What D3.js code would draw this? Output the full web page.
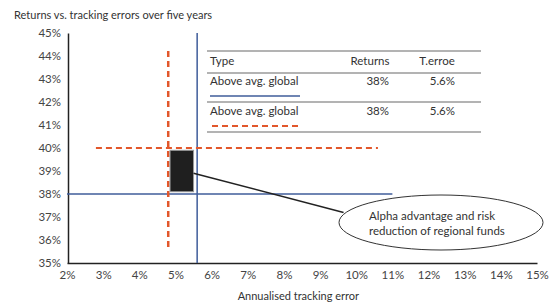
<!DOCTYPE html>
<html>
<head>
<meta charset="utf-8">
<script src="https://cdn.jsdelivr.net/npm/d3@7"></script>
<style>
  body { margin: 0; background: #fff; }
  text { font-family: Lato, "Open Sans", sans-serif; }
</style>
</head>
<body>
<svg id="display"></svg>
<script>
"use strict";

var width = 557,
    height = 305;

// axis ticks (percent)
var xTicks = [2, 3, 4, 5, 6, 7, 8, 9, 10, 11, 12, 13, 14, 15];
var yTicks = [35, 36, 37, 38, 39, 40, 41, 42, 43, 44, 45];

// global average: returns 38%, tracking error 5.6%
var globalReturn = 38,
    globalTE = 5.6,
    globalReturnSpan = [2, 11],
    globalTESpan = [35, 45];

// regional: returns 40%, tracking error 4.8%
var regionalReturn = 40,
    regionalTE = 4.8,
    regionalReturnSpan = [2.8, 10.6],
    regionalTESpan = [35.7, 44.3];

// advantage box [te0, te1, ret0, ret1]
var box = [4.85, 5.5, 38.1, 39.9];
var pointer = [[5.5, 38.9], [9.65, 37.2]];

var tableHead = ['Type', 'Returns', 'T.erroe'];
var tableRows = [
  ['Above avg. global', '38%', '5.6%'],
  ['Above avg. global', '38%', '5.6%']
];

var blue = '#3f5c9a',
    orange = '#e2572b';

var svg = d3.select('#display').attr('width', width).attr('height', height);

var x = d3.scaleLinear().domain([2, 15]).range([67, 537]);
var y = d3.scaleLinear().domain([35, 45]).range([263, 33]);

// title
svg.append('text')
  .attr('x', 14).attr('y', 19)
  .attr('font-size', 11).attr('fill', '#333')
  .text('Returns vs. tracking errors over five years');

// y axis
var yAxis = svg.append('g')
  .attr('transform', 'translate(' + (x(2) + 1) + ',0)')
  .call(d3.axisLeft(y).tickValues(yTicks).tickSize(0).tickPadding(7)
    .tickFormat(function(d){ return d + '%'; }));
yAxis.select('.domain').attr('stroke', '#222').attr('stroke-width', 1.5);
yAxis.selectAll('text').attr('font-size', 11.5).attr('fill', '#444')
  .style('font-family', 'Lato, sans-serif');

// x axis
var xAxis = svg.append('g')
  .attr('transform', 'translate(0,' + y(35) + ')')
  .call(d3.axisBottom(x).tickValues(xTicks).tickSize(0).tickPadding(8)
    .tickFormat(function(d){ return d + '%'; }));
xAxis.select('.domain').attr('stroke', '#222').attr('stroke-width', 1.5);
xAxis.selectAll('text').attr('font-size', 11.5).attr('fill', '#444')
  .style('font-family', 'Lato, sans-serif');

svg.append('text')
  .attr('x', x(8.4)).attr('y', 300)
  .attr('text-anchor', 'middle')
  .attr('font-size', 11).attr('fill', '#333')
  .text('Annualised tracking error');

// global average lines (blue)
svg.append('line')
  .attr('x1', x(globalReturnSpan[0])).attr('x2', x(globalReturnSpan[1]))
  .attr('y1', y(globalReturn)).attr('y2', y(globalReturn))
  .attr('stroke', blue).attr('stroke-width', 1.5);
svg.append('line')
  .attr('x1', x(globalTE)).attr('x2', x(globalTE))
  .attr('y1', y(globalTESpan[0])).attr('y2', y(globalTESpan[1]))
  .attr('stroke', blue).attr('stroke-width', 1.5);

// regional lines (orange dashed)
svg.append('line')
  .attr('x1', x(regionalReturnSpan[0])).attr('x2', x(regionalReturnSpan[1]))
  .attr('y1', y(regionalReturn)).attr('y2', y(regionalReturn))
  .attr('stroke', orange).attr('stroke-width', 2)
  .attr('stroke-dasharray', '6,4');
svg.append('line')
  .attr('x1', x(regionalTE)).attr('x2', x(regionalTE))
  .attr('y1', y(regionalTESpan[0])).attr('y2', y(regionalTESpan[1]))
  .attr('stroke', orange).attr('stroke-width', 2.5)
  .attr('stroke-dasharray', '6,4');

// box
svg.append('rect')
  .attr('x', x(box[0])).attr('y', y(box[3]))
  .attr('width', x(box[1]) - x(box[0]))
  .attr('height', y(box[2]) - y(box[3]))
  .attr('fill', '#1f1f1f')
  .attr('stroke', '#999').attr('stroke-width', 1);

// pointer line
svg.append('line')
  .attr('x1', x(pointer[0][0])).attr('y1', y(pointer[0][1]))
  .attr('x2', x(pointer[1][0])).attr('y2', y(pointer[1][1]))
  .attr('stroke', '#222').attr('stroke-width', 1.5);

// callout
svg.append('ellipse')
  .attr('cx', 441).attr('cy', 222.5)
  .attr('rx', 102).attr('ry', 27.5)
  .attr('fill', '#fff')
  .attr('stroke', '#333').attr('stroke-width', 1);
var note = svg.append('text')
  .attr('font-size', 11.5).attr('fill', '#333');
note.append('tspan').attr('x', 369).attr('y', 220).text('Alpha advantage and risk');
note.append('tspan').attr('x', 369).attr('y', 235).text('reduction of regional funds');

// legend table
var tbl = svg.append('g');
var rules = [51, 73, 102, 132];
rules.forEach(function(ry){
  tbl.append('line')
    .attr('x1', 207).attr('x2', 481)
    .attr('y1', ry).attr('y2', ry)
    .attr('stroke', '#9a9a9a').attr('stroke-width', 1.5);
});

var colX = [210, 389, 455],
    colAnchor = ['start', 'end', 'end'];

tableHead.forEach(function(t, i){
  tbl.append('text')
    .attr('x', i === 0 ? 210 : (i === 1 ? 370 : 437)).attr('y', 65)
    .attr('text-anchor', i === 0 ? 'start' : 'middle')
    .attr('font-size', 11.5).attr('fill', '#333')
    .text(t);
});

tableRows.forEach(function(row, r){
  var ty = 85 + r * 30;
  row.forEach(function(t, i){
    tbl.append('text')
      .attr('x', colX[i]).attr('y', ty)
      .attr('text-anchor', colAnchor[i])
      .attr('font-size', 11.5).attr('fill', '#333')
      .text(t);
  });
});

tbl.append('line')
  .attr('x1', 210).attr('x2', 300).attr('y1', 96).attr('y2', 96)
  .attr('stroke', blue).attr('stroke-width', 1.5);
tbl.append('line')
  .attr('x1', 212).attr('x2', 300).attr('y1', 126).attr('y2', 126)
  .attr('stroke', orange).attr('stroke-width', 2)
  .attr('stroke-dasharray', '6,4');
</script>
</body>
</html>
